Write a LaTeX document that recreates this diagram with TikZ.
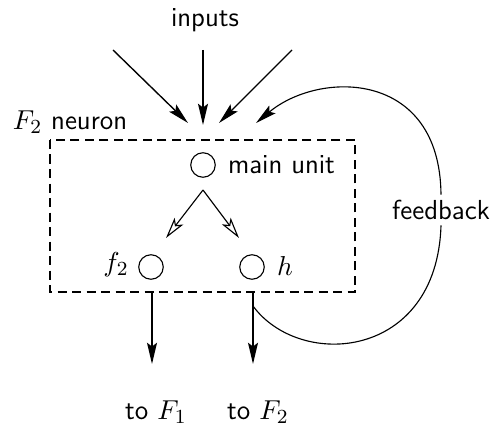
\documentclass[tikz,border=0pt]{standalone}
\usetikzlibrary{arrows.meta}
\renewcommand{\familydefault}{\sfdefault}
\begin{document}
\begin{tikzpicture}[x=0.4pt,y=-0.4pt,
  lbl/.style={inner sep=1pt,font=\fontsize{11}{13}\selectfont},
  unit/.style={draw,circle,minimum size=9.8pt,inner sep=0pt,line width=0.45pt},
  inarrow/.style={line width=0.55pt,-{Stealth[length=8.5pt,width=4pt,inset=1.5pt]}},
  openarrow/.style={line width=0.45pt,-{Stealth[open,length=8.5pt,width=4.4pt,inset=2pt]}},
  box/.style={dashed,dash pattern=on 3.6pt off 2.2pt,line width=0.5pt},
  fb/.style={line width=0.45pt,-{Stealth[length=8.5pt,width=4pt,inset=1.5pt]}}]
\useasboundingbox (0,0) rectangle (493,426);
% texts
\node[lbl] (inputs) at (205,20) {inputs};
\node[lbl] (neuron) at (70,122) {$F_2$ neuron};
% input arrows
\coordinate (s1) at (113,50);
\coordinate (s2) at (203,50);
\coordinate (s3) at (292,50);
\coordinate (t1) at (188,123);
\coordinate (t2) at (203,125);
\coordinate (t3) at (219,123);
\draw[inarrow] (s1) -- (t1);
\draw[inarrow] (s2) -- (t2);
\draw[inarrow] (s3) -- (t3);
% box
\draw[box] (50,140) rectangle (355,292);
% units
\node[unit] (main) at (203,165) {};
\node[lbl,anchor=west] (mainlbl) at (225,165) {main unit};
\node[unit] (f) at (151,267) {};
\node[unit] (h) at (252,267) {};
\node[lbl] (flbl) at (116,265) {$f_2$};
\node[lbl] (hlbl) at (285,266) {$h$};
% internal arrows
\coordinate (split) at (203,190);
\coordinate (tl) at (166,238);
\coordinate (tr) at (239,238);
\draw[openarrow] (split) -- (tl);
\draw[openarrow] (split) -- (tr);
% outputs
\coordinate (o1s) at (152,292);
\coordinate (o2s) at (253,292);
\coordinate (o1) at (152,364);
\coordinate (o2) at (253,364);
\draw[inarrow] (o1s) -- (o1);
\draw[inarrow] (o2s) -- (o2);
\node[lbl] (to1) at (156,412) {to $F_1$};
\node[lbl] (to2) at (258,412) {to $F_2$};
% feedback
\coordinate (fbs) at (253,306);
\coordinate (fbt) at (256,123);
\node[lbl,fill=white,inner sep=2pt] (fblbl) at (441,210) {feedback};
\draw[line width=0.45pt] (fbs) .. controls (300,370) and (437,360) .. (fblbl.south);
\draw[fb] (fblbl.north) .. controls (440,70) and (320,70) .. (fbt);
\end{tikzpicture}
\end{document}
